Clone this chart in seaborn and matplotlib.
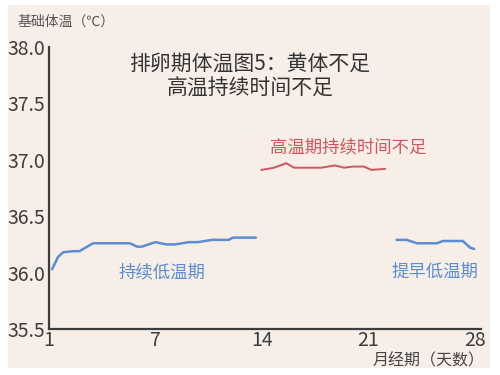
import matplotlib
matplotlib.use('Agg')
import matplotlib.pyplot as plt
import seaborn as sns
import pandas as pd
from matplotlib.patches import Rectangle

# data (x = day offset, 0 is day 1)
low_days = [0.2, 0.6, 0.93, 1.6, 2.0, 2.9, 5.3, 5.8, 6.1, 7.0, 7.7, 8.3,
            9.2, 9.8, 10.7, 11.8, 12.1, 13.6]
low_temps = [36.03, 36.14, 36.18, 36.19, 36.19, 36.26, 36.26, 36.23, 36.23,
             36.27, 36.25, 36.25, 36.27, 36.27, 36.29, 36.29, 36.31, 36.31]

high_days = [13.95, 14.8, 15.6, 16.1, 17.9, 18.8, 19.4, 20.0, 20.7, 21.2, 22.1]
high_temps = [36.91, 36.93, 36.97, 36.93, 36.93, 36.95, 36.93, 36.94, 36.94,
              36.91, 36.92]

early_days = [22.85, 23.5, 24.2, 25.5, 25.9, 27.2, 27.7, 27.95]
early_temps = [36.29, 36.29, 36.26, 36.26, 36.28, 36.28, 36.22, 36.21]

tick_pos = [0, 7, 14, 21, 28]
tick_labels = ['1', '7', '14', '21', '28']
y_ticks = [35.5, 36.0, 36.5, 37.0, 37.5, 38.0]

BG = '#f8eee8'
AX = '#3d3d3d'
BLUE = '#5b8dd2'
RED = '#d2545c'

sns.set_theme(style='white')
plt.rcParams['font.family'] = ['Noto Sans CJK SC', 'DejaVu Sans']

fig = plt.figure(figsize=(5, 3.75), dpi=100)
fig.patch.set_facecolor('white')
fig.patches.append(Rectangle((8 / 500, 1 - 368 / 375), 482 / 500, 363 / 375,
                             transform=fig.transFigure, facecolor=BG,
                             edgecolor='none', zorder=-10))

ax = fig.add_axes([49 / 500, 1 - 329 / 375, 432 / 500, 282 / 375])
ax.set_facecolor('none')
ax.set_zorder(5)

low = pd.DataFrame({'day': low_days, 'temp': low_temps})
high = pd.DataFrame({'day': high_days, 'temp': high_temps})
early = pd.DataFrame({'day': early_days, 'temp': early_temps})

sns.lineplot(data=low, x='day', y='temp', color=BLUE, lw=1.8, ax=ax)
sns.lineplot(data=high, x='day', y='temp', color=RED, lw=1.4, ax=ax)
sns.lineplot(data=early, x='day', y='temp', color=BLUE, lw=1.8, ax=ax)

ax.set_xlim(0, 28.4)
ax.set_ylim(35.5, 38.0)
ax.set_xticks(tick_pos)
ax.set_xticklabels(tick_labels)
ax.set_yticks(y_ticks)
ax.set_yticklabels([f'{v:.1f}' for v in y_ticks])
ax.set_xlabel('')
ax.set_ylabel('')

for s in ['top', 'right']:
    ax.spines[s].set_visible(False)
for s in ['left', 'bottom']:
    ax.spines[s].set_color(AX)
    ax.spines[s].set_linewidth(1.6)
ax.tick_params(axis='both', direction='in', length=8, width=1.6,
               color=AX, labelcolor=AX, labelsize=14)
ax.tick_params(axis='x', pad=1)
ax.tick_params(axis='y', pad=3)

ax.text(13.2, 37.85, '排卵期体温图5：黄体不足', ha='center', va='center',
        fontsize=15, color='#333333')
ax.text(13.2, 37.63, '高温持续时间不足', ha='center', va='center',
        fontsize=15, color='#333333')
ax.text(19.7, 37.11, '高温期持续时间不足', ha='center', va='center',
        fontsize=12.5, color=RED)
ax.text(7.4, 36.0, '持续低温期', ha='center', va='center',
        fontsize=12.5, color=BLUE)
ax.text(25.4, 36.01, '提早低温期', ha='center', va='center',
        fontsize=12.5, color=BLUE)

fig.text(18 / 500, 1 - 22 / 375, '基础体温（℃）', ha='left', va='center',
         fontsize=10, color='#555555')
fig.text(429 / 500, 1 - 361 / 375, '月经期（天数）', ha='center', va='center',
         fontsize=11.5, color='#444444', zorder=6)

fig.savefig('out.png', dpi=100, facecolor='white')
